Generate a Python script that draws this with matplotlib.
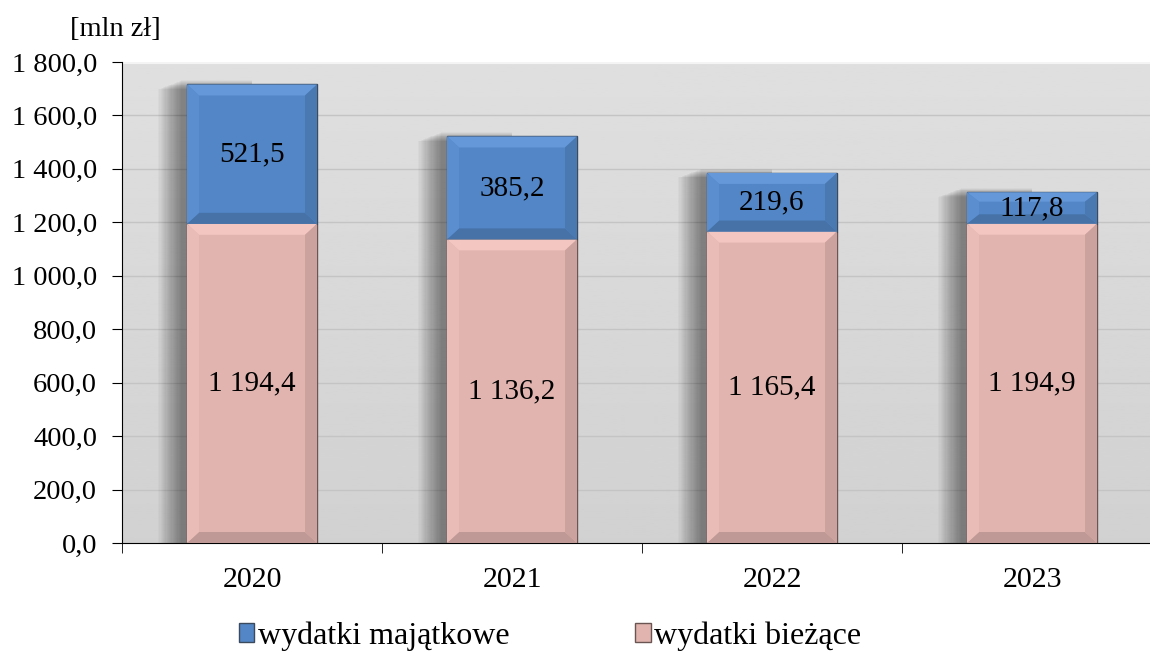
import numpy as np
import matplotlib.pyplot as plt
from matplotlib.patches import Polygon, Rectangle
from matplotlib.ticker import FuncFormatter
import matplotlib.colors as mcolors

plt.rcParams['font.family'] = ['Liberation Serif', 'DejaVu Serif']

years = ['2020', '2021', '2022', '2023']
biezace = [1194.4, 1136.2, 1165.4, 1194.9]
majatkowe = [521.5, 385.2, 219.6, 117.8]

blue = '#5286c6'
pink = '#e1b4af'

fig = plt.figure(figsize=(11.5, 6.53), dpi=100)
W, H = 1150, 653
# axes run slightly past the right edge of the figure
ax = fig.add_axes([122 / W, 1 - 543 / H, 1040 / W, (543 - 62) / H])

# background gradient
grad = np.linspace(0.82, 0.875, 256).reshape(-1, 1)
ax.imshow(grad, extent=[-0.5, 3.5, 0, 1800], aspect='auto', cmap='gray',
          vmin=0, vmax=1, origin='lower', zorder=0)
ax.set_xlim(-0.5, 3.5)
ax.set_ylim(0, 1800)

for yv in range(200, 1801, 200):
    ax.axhline(yv, color='#c4c4c4', lw=1.0, zorder=1)
ax.axhline(1800, color='#f4f4f4', lw=3, zorder=1)

x = np.arange(len(years))
width = 0.5

# px -> data helpers
px_x = 1 / 260
px_y = 1800 / 481


def bevel(x0, y0, w, h, color):
    c = np.array(mcolors.to_rgb(color))
    bx, by = 12 * px_x, 11 * px_y
    by = min(by, h * 0.3)
    x1, y1 = x0 + w, y0 + h
    faces = [
        ([(x0, y1), (x1, y1), (x1 - bx, y1 - by), (x0 + bx, y1 - by)], np.clip(c + 0.07, 0, 1)),
        ([(x0, y0), (x1, y0), (x1 - bx, y0 + by), (x0 + bx, y0 + by)], c * 0.85),
        ([(x0, y0), (x0, y1), (x0 + bx, y1 - by), (x0 + bx, y0 + by)], np.clip(c + 0.03, 0, 1)),
        ([(x1, y0), (x1, y1), (x1 - bx, y1 - by), (x1 - bx, y0 + by)], c * 0.9),
    ]
    for pts, fc in faces:
        ax.add_patch(Polygon(pts, closed=True, facecolor=fc, edgecolor='none', zorder=4))


# soft shadows, offset to the left of each stack
for i in x:
    total = biezace[i] + majatkowe[i]
    right = i
    for k in range(20):
        spread = 2 + k * 1.2
        left = i - width / 2 - (4 + spread) * px_x
        top = total + (4 - 0.45 * k) * px_y
        ax.add_patch(Rectangle((left, 0), right - left, top,
                               facecolor='black', alpha=0.022, edgecolor='none', zorder=2))

b1 = ax.bar(x, biezace, width, color=pink, edgecolor='#6b5553', lw=1.0, zorder=3,
            label='wydatki bieżące')
b2 = ax.bar(x, majatkowe, width, bottom=biezace, color=blue, edgecolor='#3b4a5c', lw=1.0,
            zorder=3, label='wydatki majątkowe')

for i in x:
    bevel(i - width / 2, 0, width, biezace[i], pink)
    bevel(i - width / 2, biezace[i], width, majatkowe[i], blue)


def fmt(v):
    s = f'{v:,.1f}'.replace(',', ' ').replace('.', ',')
    return s


for i in x:
    ax.text(i, biezace[i] / 2, fmt(biezace[i]), ha='center', va='center',
            fontsize=21, zorder=6)
    ax.text(i, biezace[i] + majatkowe[i] / 2, fmt(majatkowe[i]), ha='center',
            va='center', fontsize=21, zorder=6)

ax.yaxis.set_major_formatter(FuncFormatter(lambda v, p: fmt(v)))
ax.set_yticks(np.arange(0, 1801, 200))
ax.set_xticks(x)
ax.set_xticklabels(years)
ax.set_xticks(np.arange(-0.5, 3.6, 1), minor=True)
ax.tick_params(axis='x', which='major', length=0, pad=17, labelsize=21.5)
ax.tick_params(axis='x', which='minor', length=7, color='black')
ax.tick_params(axis='y', length=7, labelsize=20.5, pad=11)
for side in ['top', 'right']:
    ax.spines[side].set_visible(False)
ax.spines['left'].set_color('black')
ax.spines['bottom'].set_color('black')

fig.text(115 / W, 1 - 30 / H, '[mln zł]', ha='center', va='center', fontsize=20.5)

fig.legend(handles=[b2, b1], loc='center', bbox_to_anchor=(550 / W, 1 - 636 / H),
           ncol=2, frameon=False, fontsize=23, handlelength=0.5, handleheight=0.5,
           handletextpad=0.12, columnspacing=3.9)

fig.savefig('out.png', dpi=100)
